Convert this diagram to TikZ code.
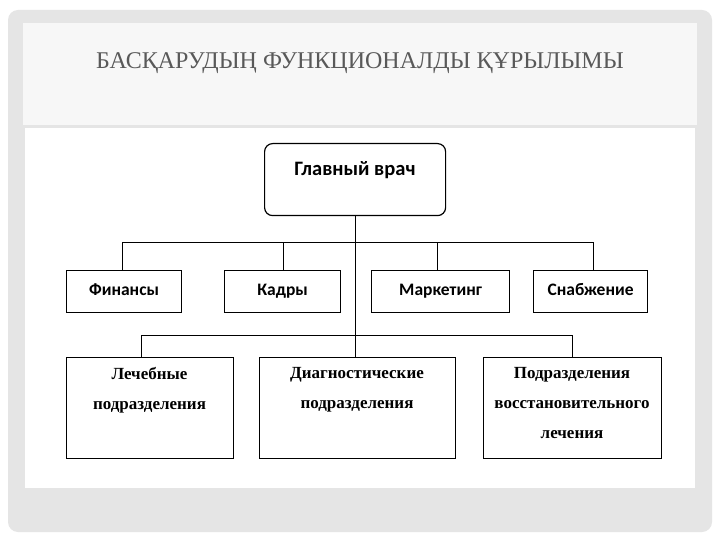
\documentclass[tikz,border=0pt]{standalone}
\usepackage{fontspec}
\setmainfont{Liberation Serif}
\newfontfamily\titlefont{Liberation Serif}
\newfontfamily\boxsans{Carlito}
\begin{document}
\begin{tikzpicture}[x=1pt,y=-1pt,
  bx/.style={draw=black,line width=1.2pt,rectangle,anchor=north west,inner sep=0pt},
  ln/.style={draw=black,line width=0.8pt},
  top/.style={font=\boxsans\bfseries\fontsize{17.5}{20}\selectfont,text height=12pt,text depth=4pt},
  bot/.style={font=\titlefont\bfseries\fontsize{17}{30}\selectfont,align=center,inner sep=0pt,anchor=north}]
\useasboundingbox (0,0) rectangle (720,540);
\fill[white] (0,0) rectangle (720,540);
\fill[gray!20,rounded corners=10pt] (8,10) rectangle (712,532);
\fill[white!97!black] (23,23) rectangle (697,125);
\fill[white] (25,128) rectangle (695,488);
\node[text=black!65,font=\titlefont\fontsize{24}{26}\selectfont] (title) at (360,63) {БАСҚАРУДЫҢ ФУНКЦИОНАЛДЫ ҚҰРЫЛЫМЫ};
% boxes
\node[bx,rounded corners=8pt,minimum width=181pt,minimum height=72pt] (gv) at (264,143) {};
\node[font=\boxsans\bfseries\fontsize{20.5}{22}\selectfont] (gvt) at (355,170) {Главный врач};
\node[bx,minimum width=115pt,minimum height=42pt] (f) at (66,270) {};
\node[top] at (f.center) {Финансы};
\node[bx,minimum width=116pt,minimum height=42pt] (k) at (224,270) {};
\node[top] at (k.center) {Кадры};
\node[bx,minimum width=138pt,minimum height=42pt] (m) at (371,270) {};
\node[top] at (m.center) {Маркетинг};
\node[bx,minimum width=114pt,minimum height=42pt] (s) at (533,270) {};
\node[top] at (s.center) {Снабжение};
\node[bx,minimum width=167pt,minimum height=101pt] (l) at (66,357) {};
\node[bot] at (149.5,367) {Лечебные\\подразделения};
\node[bx,minimum width=196pt,minimum height=101pt] (d) at (259,357) {};
\node[bot] at (357,367) {Диагностические\\подразделения};
\node[bx,minimum width=178pt,minimum height=101pt] (p) at (483,357) {};
\node[bot] at (572,367) {Подразделения\\восстановительного\\лечения};
% connectors
\coordinate (b1) at (355,242);
\coordinate (b2) at (355,335);
\draw[ln] (gv.south -| b1) -- (d.north -| b1);
\draw[ln] (f.north -| 122,0) -- (122,242) -- (593,242) -- (s.north -| 593,0);
\draw[ln] (283,242) -- (k.north -| 283,0);
\draw[ln] (437,242) -- (m.north -| 437,0);
\draw[ln] (l.north -| 141,0) -- (141,335) -- (572,335) -- (p.north -| 572,0);
\end{tikzpicture}
\end{document}
